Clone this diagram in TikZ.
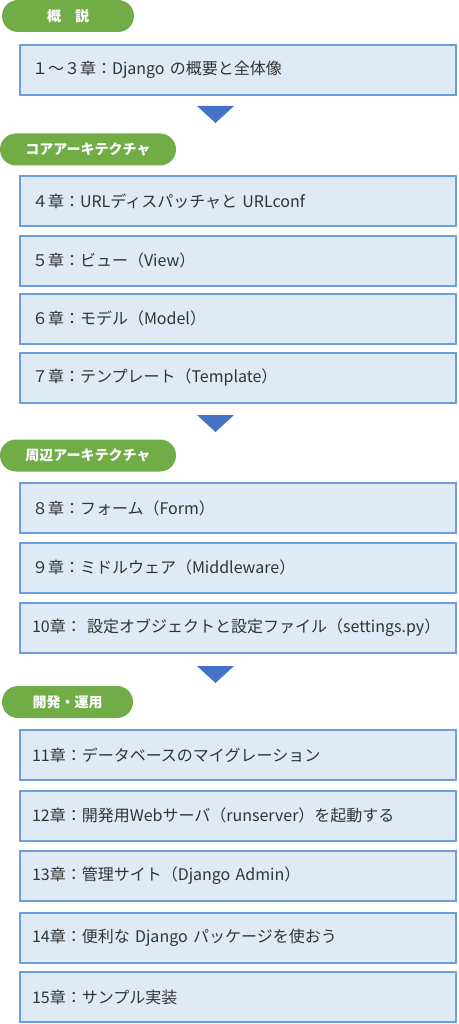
\documentclass[tikz,border=0pt]{standalone}
\usepackage{fontspec}
\setmainfont{Noto Sans CJK JP}
\usepackage{tikz}
\definecolor{boxfill}{HTML}{DEEAF6}
\definecolor{boxline}{HTML}{6D9EDB}
\definecolor{pillgreen}{HTML}{70AD47}
\definecolor{arrowblue}{HTML}{4472C4}
\definecolor{chaptext}{HTML}{333333}
\tikzset{
	chap/.style = {
		shape=rectangle,
		draw=boxline,
		line width=2pt,
		fill=boxfill,
		minimum width=436pt,
		minimum height=50pt,
		text width=412pt,
		inner xsep=12pt,
		align=left,
		text=chaptext,
		font=\fontsize{16}{19}\selectfont
	},
	part/.style = {
		shape=rectangle,
		rounded corners=16pt,
		fill=pillgreen,
		text=white,
		minimum height=32pt,
		inner sep=0pt,
		font=\bfseries\fontsize{14}{16}\selectfont
	},
	down/.style = {
		fill=arrowblue
	}
}
\begin{document}
\begin{tikzpicture}[x=1pt, y=-1pt]
		\useasboundingbox (0,0) rectangle (458,1024);
		% 概説
		\node[part, minimum width=132pt] (overview) at (68,16) {概　説};
		\node[chap] (ch1) at (238,70) {１～３章：Django の概要と全体像};
		\fill[down] (197,106) -- (234,106) -- (215.5,123) -- cycle;
		% コアアーキテクチャ
		\node[part, minimum width=176pt] (core) at (88,149.5) {コアアーキテクチャ};
		\node[chap] (ch4) at (238,201) {４章：URLディスパッチャと URLconf};
		\node[chap] (ch5) at (238,260.5) {５章：ビュー（View）};
		\node[chap] (ch6) at (238,318.5) {６章：モデル（Model）};
		\node[chap] (ch7) at (238,377.5) {７章：テンプレート（Template）};
		\fill[down] (197,415) -- (234,415) -- (215.5,432) -- cycle;
		% 周辺アーキテクチャ
		\node[part, minimum width=176pt] (around) at (88,455.5) {周辺アーキテクチャ};
		\node[chap] (ch8) at (238,508) {８章：フォーム（Form）};
		\node[chap] (ch9) at (238,567.5) {９章：ミドルウェア（Middleware）};
		\node[chap] (ch10) at (238,627.5) {10章： 設定オブジェクトと設定ファイル（settings.py）};
		\fill[down] (197,666) -- (234,666) -- (215.5,683) -- cycle;
		% 開発・運用
		\node[part, minimum width=131pt] (devops) at (67.5,702) {開発・運用};
		\node[chap] (ch11) at (238,755) {11章：データベースのマイグレーション};
		\node[chap] (ch12) at (238,815.5) {12章：開発用Webサーバ（runserver）を起動する};
		\node[chap] (ch13) at (238,875.5) {13章：管理サイト（Django Admin）};
		\node[chap] (ch14) at (238,937.5) {14章：便利な Django パッケージを使おう};
		\node[chap] (ch15) at (238,997) {15章：サンプル実装};
\end{tikzpicture}
\end{document}
